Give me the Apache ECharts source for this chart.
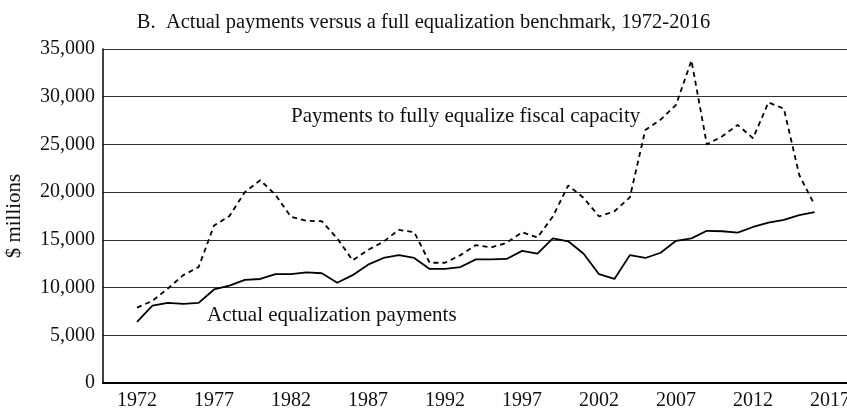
<!DOCTYPE html>
<html>
<head>
<meta charset="utf-8">
<script src="https://cdn.jsdelivr.net/npm/echarts@6/dist/echarts.min.js"></script>
<style>
  html, body { margin: 0; padding: 0; background: #fff; }
  #main { width: 847px; height: 415px; }
</style>
</head>
<body>
<div id="main"></div>
<script>
/* 数据 */
var years = [];
for (var y = 1972; y <= 2016; y++) years.push(y);

// 实际均等化支付 ($ millions)
var actualPayments = [
  6400, 8100, 8400, 8300, 8400, 9800, 10200, 10800, 10900, 11400,
  11400, 11600, 11500, 10500, 11300, 12400, 13100, 13400, 13100, 11950,
  11950, 12150, 12950, 12950, 13000, 13850, 13550, 15150, 14850, 13550,
  11400, 10900, 13400, 13100, 13650, 14900, 15150, 15950, 15900, 15750,
  16350, 16800, 17100, 17600, 17900
];
// 完全均等化财政能力所需支付
var fullEqualization = [
  7900, 8600, 9900, 11300, 12150, 16500, 17500, 20000, 21250, 19700,
  17400, 17000, 16950, 15150, 12850, 13950, 14800, 16050, 15800, 12600,
  12600, 13400, 14450, 14200, 14700, 15800, 15250, 17450, 20700, 19400,
  17450, 18000, 19450, 26500, 27600, 29150, 33800, 25000, 25850, 27050,
  25650, 29400, 28750, 21800, 18650
];
var xTickLabels = [1972, 1977, 1982, 1987, 1992, 1997, 2002, 2007, 2012, 2017];

function pairs(vals) {
  return years.map(function (yr, i) { return [yr, vals[i]]; });
}

var FONT = '"Liberation Serif", "DejaVu Serif", serif';

var chart = echarts.init(document.getElementById('main'));
chart.setOption({
  animation: false,
  backgroundColor: '#fff',
  title: {
    text: 'B.  Actual payments versus a full equalization benchmark, 1972-2016',
    left: 'center',
    top: 7,
    textStyle: { fontFamily: FONT, fontSize: 20.5, fontWeight: 'normal', color: '#111' }
  },
  grid: { left: 103, right: 0, top: 49, bottom: 32, outerBoundsMode: 'none', containLabel: false },
  xAxis: {
    type: 'value',
    min: 1969.79,
    max: 2018.1,
    axisLine: { show: true, lineStyle: { color: '#000', width: 2 } },
    axisTick: { show: false },
    splitLine: { show: false },
    axisLabel: {
      customValues: xTickLabels,
      fontFamily: FONT, fontSize: 20, color: '#111', margin: 8,
      formatter: function (v) { return String(v); }
    }
  },
  yAxis: {
    type: 'value',
    min: 0, max: 35000, interval: 5000,
    name: '$ millions',
    nameLocation: 'middle',
    nameGap: 78,
    nameTextStyle: { fontFamily: FONT, fontSize: 21, color: '#111' },
    axisLine: { show: true, lineStyle: { color: '#000', width: 1.5 } },
    axisTick: { show: false },
    splitLine: { show: true, lineStyle: { color: '#333', width: 1 } },
    axisLabel: {
      fontFamily: FONT, fontSize: 20, color: '#111', margin: 8,
      formatter: function (v) { return v.toString().replace(/\B(?=(\d{3})+(?!\d))/g, ','); }
    }
  },
  graphic: [
    { type: 'text', left: 291, top: 106,
      style: { text: 'Payments to fully equalize fiscal capacity', font: '21px ' + FONT, fill: '#111' } },
    { type: 'text', left: 207, top: 305,
      style: { text: 'Actual equalization payments', font: '21px ' + FONT, fill: '#111' } }
  ],
  series: [
    {
      name: 'Payments to fully equalize fiscal capacity',
      type: 'line',
      data: pairs(fullEqualization),
      showSymbol: false,
      lineStyle: { color: '#000', width: 1.8, type: [5, 4] },
      z: 3
    },
    {
      name: 'Actual equalization payments',
      type: 'line',
      data: pairs(actualPayments),
      showSymbol: false,
      lineStyle: { color: '#000', width: 1.8, type: 'solid' },
      z: 4
    }
  ]
});
</script>
</body>
</html>
